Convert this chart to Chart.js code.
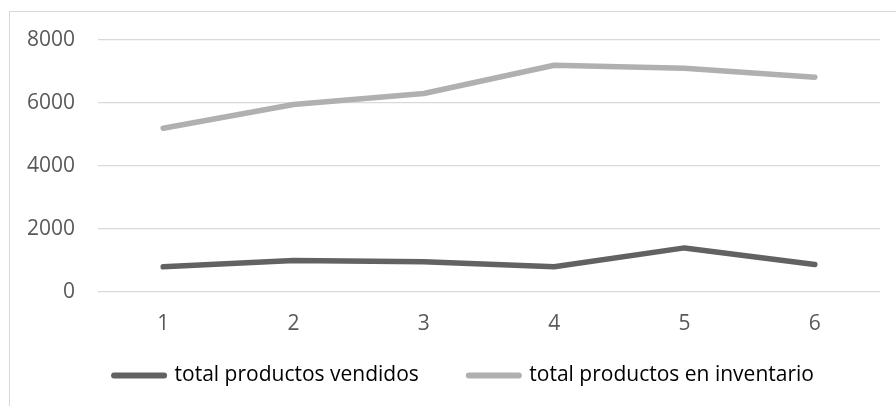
<!DOCTYPE html>
<html lang="es">
<head>
<meta charset="UTF-8">
<title>Productos</title>
<script src="https://cdn.jsdelivr.net/npm/chart.js@4.4.2/dist/chart.umd.min.js"></script>
<style>
    body { margin: 0; background: #fff; }
    .frame {
        position: absolute; left: 9px; top: 11px; width: 900px; height: 400px;
        border: 1px solid #d9d9d9; box-sizing: border-box;
    }
    .wrap { position: absolute; left: 0; top: 0; width: 896px; height: 406px; }
</style>
</head>
<body>
<div class="frame"></div>
<div class="wrap"><canvas id="chart"></canvas></div>
<script>
    const periods = ['1', '2', '3', '4', '5', '6'];
    const vendidos = [800, 1000, 960, 800, 1400, 870];
    const inventario = [5200, 5950, 6300, 7200, 7100, 6820];

    const font = { family: "'Open Sans', sans-serif", size: 21 };
    Chart.defaults.color = '#595959';

    // move the legend a bit to the right, like the original
    const legendShift = {
        id: 'legendShift',
        afterLayout(chart) {
            chart.legend.left += 24;
            chart.legend.right += 24;
        }
    };

    new Chart(document.getElementById('chart'), {
        type: 'line',
        data: {
            labels: periods,
            datasets: [{
                label: 'total productos vendidos',
                data: vendidos,
                borderColor: '#626262',
                backgroundColor: '#626262'
            }, {
                label: 'total productos en inventario',
                data: inventario,
                borderColor: '#b0b0b0',
                backgroundColor: '#b0b0b0'
            }]
        },
        plugins: [legendShift],
        options: {
            responsive: true,
            maintainAspectRatio: false,
            animation: false,
            datasets: {
                line: {
                    borderWidth: 5.5, pointRadius: 0, tension: 0,
                    borderCapStyle: 'round', borderJoinStyle: 'round'
                }
            },
            layout: { padding: { left: 0, right: 16, top: 40, bottom: 10 } },
            scales: {
                x: {
                    offset: true,
                    grid: { display: false, drawTicks: false },
                    border: { display: false },
                    ticks: { font: font, padding: 19 },
                    afterFit: s => { s.height = 65; }
                },
                y: {
                    min: 0, max: 8000,
                    grid: { color: '#d9d9d9', lineWidth: 1.3, drawTicks: false },
                    border: { display: false },
                    ticks: { stepSize: 2000, font: font, padding: 23, callback: v => String(v) },
                    afterFit: s => { s.width = 98; }
                }
            },
            plugins: {
                tooltip: { enabled: false },
                legend: {
                    position: 'bottom',
                    labels: {
                        font: font, color: '#595959',
                        usePointStyle: true, pointStyle: 'line',
                        pointStyleWidth: 50, boxHeight: 21, padding: 8,
                        generateLabels: chart => chart.data.datasets.map((d, i) => ({
                            text: i === 0 ? d.label + '\u2003\u2003' : d.label,
                            datasetIndex: i, hidden: false,
                            strokeStyle: d.borderColor, fillStyle: d.borderColor,
                            lineWidth: 6, lineCap: 'round', pointStyle: 'line'
                        }))
                    }
                }
            }
        }
    });
</script>
</body>
</html>
